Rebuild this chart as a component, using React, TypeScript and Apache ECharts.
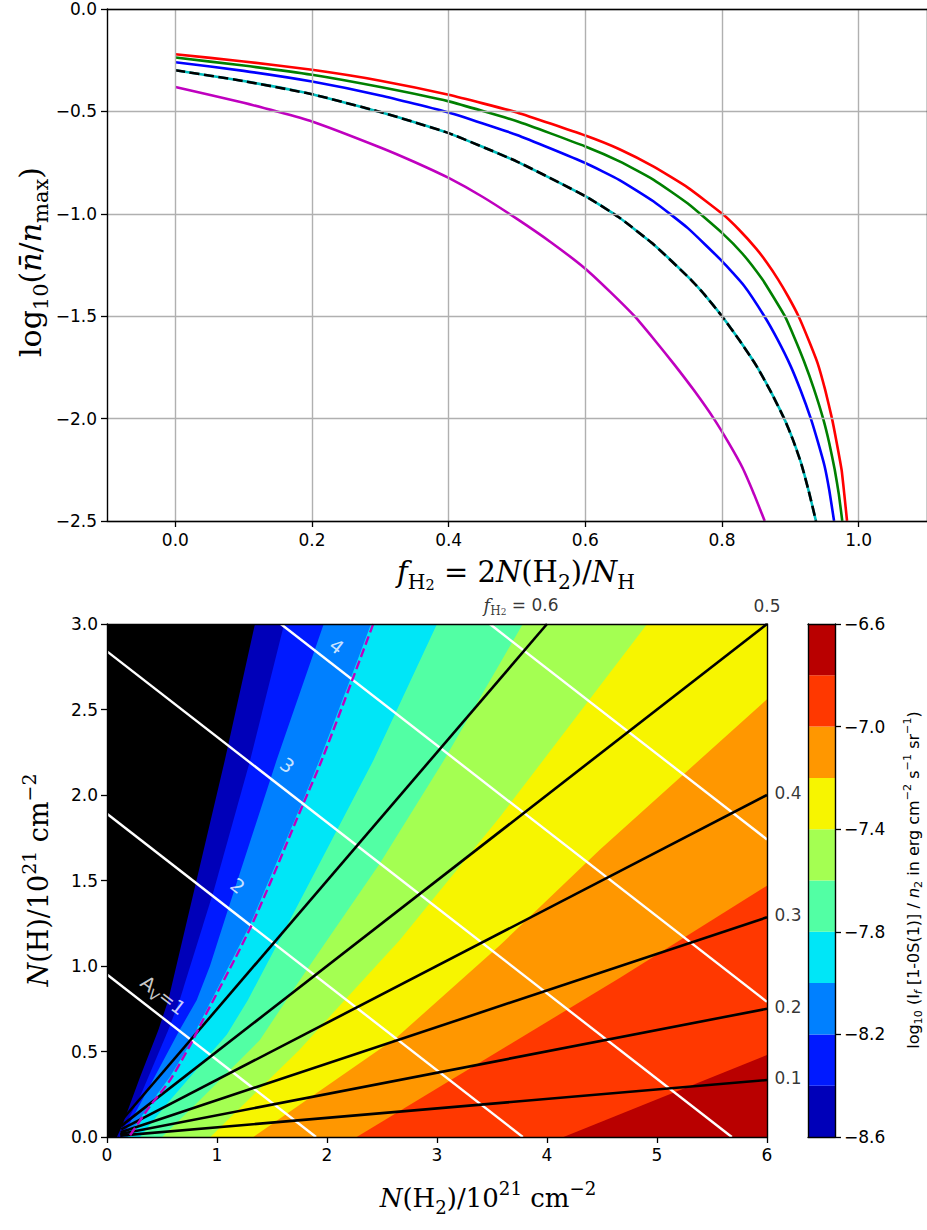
import React, { useEffect, useRef } from "react";
import * as echarts from "echarts";

// ---------------- top panel: log10(nbar/nmax) vs f_H2 ----------------
const TOP_X_TICKS = [0, 0.2, 0.4, 0.6, 0.8, 1.0];
const CURVE_RED = [[0, -0.221], [0.1, -0.256], [0.2, -0.297], [0.3, -0.35], [0.4, -0.419], [0.5, -0.505], [0.6, -0.618], [0.65, -0.685], [0.7, -0.77], [0.75, -0.872], [0.8, -0.999], [0.825, -1.078], [0.85, -1.17], [0.866, -1.24], [0.882, -1.32], [0.897, -1.405], [0.912, -1.5], [0.926, -1.61], [0.94, -1.73], [0.951, -1.86], [0.961, -2.0], [0.968, -2.12], [0.975, -2.25], [0.979, -2.37], [0.983, -2.5]];
const CURVE_GREEN = [[0, -0.237], [0.1, -0.276], [0.2, -0.321], [0.3, -0.381], [0.4, -0.451], [0.5, -0.548], [0.6, -0.671], [0.65, -0.744], [0.7, -0.834], [0.75, -0.95], [0.8, -1.093], [0.83, -1.195], [0.859, -1.32], [0.875, -1.405], [0.892, -1.5], [0.906, -1.605], [0.92, -1.72], [0.934, -1.85], [0.948, -2.0], [0.957, -2.12], [0.965, -2.25], [0.971, -2.37], [0.976, -2.5]];
const CURVE_BLUE = [[0, -0.26], [0.1, -0.302], [0.2, -0.354], [0.3, -0.422], [0.4, -0.505], [0.5, -0.615], [0.6, -0.752], [0.65, -0.835], [0.7, -0.94], [0.75, -1.07], [0.8, -1.231], [0.832, -1.35], [0.862, -1.5], [0.881, -1.612], [0.9, -1.74], [0.915, -1.862], [0.93, -2.0], [0.94, -2.11], [0.95, -2.23], [0.957, -2.35], [0.964, -2.5]];
const CURVE_BLACK = [[0, -0.299], [0.1, -0.352], [0.2, -0.416], [0.3, -0.503], [0.4, -0.606], [0.5, -0.745], [0.6, -0.914], [0.65, -1.019], [0.7, -1.15], [0.754, -1.32], [0.775, -1.397], [0.8, -1.5], [0.825, -1.615], [0.85, -1.74], [0.871, -1.866], [0.891, -2.0], [0.904, -2.105], [0.916, -2.22], [0.927, -2.355], [0.9375, -2.5]];
const CURVE_MAGENTA = [[0, -0.381], [0.1, -0.458], [0.2, -0.549], [0.3, -0.676], [0.35, -0.747], [0.4, -0.825], [0.45, -0.918], [0.5, -1.025], [0.55, -1.14], [0.6, -1.268], [0.636, -1.38], [0.672, -1.5], [0.701, -1.615], [0.73, -1.735], [0.759, -1.862], [0.788, -2.0], [0.81, -2.12], [0.83, -2.24], [0.847, -2.37], [0.8625, -2.5]];

// ---------------- bottom panel: contour map ----------------
// colour levels (colour bar), lowest band first
const LEVELS = [-8.6, -8.4, -8.2, -8.0, -7.8, -7.6, -7.4, -7.2, -7.0, -6.8, -6.6];
const BAND_COLORS = ["#0000b9", "#001aff", "#0080ff", "#00e6f7", "#52ffa4", "#a4ff52", "#f7f500", "#ff9700", "#ff3800", "#b90000"];
const BELOW_COLOR = "#000000";

// band boundaries: [N(H2), N(H)] points
const B_BLACK_DB = [[0.09, 0], [0.134, 0.06], [0.3, 0.35], [0.467, 0.626], [0.557, 0.8], [1.07, 2.2], [1.345, 3.0]];
const B_DB_B = [[0.11, 0], [0.3, 0.236], [0.557, 0.626], [0.66, 0.8], [0.97, 1.44], [1.3, 2.2], [1.61, 3.0]];
const B_B_LB = [[0.14, 0], [0.39, 0.3], [0.66, 0.626], [0.815, 0.8], [0.936, 1.0], [1.1, 1.33], [1.54, 2.2], [1.97, 3.0]];
const B_LB_C = [[0.19, 0], [0.4, 0.2], [0.57, 0.35], [0.75, 0.54], [0.83, 0.65], [1.3, 1.24], [1.77, 1.95], [1.93, 2.2], [2.22, 2.69], [2.4, 3.0]];
const B_C_G = [[0.3, 0], [0.54, 0.19], [1.09, 0.6], [1.28, 0.8], [1.68, 1.29], [2.42, 2.2], [3.0, 3.0]];
const B_G_YG = [[0.5, 0], [0.85, 0.22], [1.39, 0.567], [1.63, 0.8], [1.84, 1.0], [2.48, 1.6], [3.06, 2.2], [3.78, 3.0]];
const B_YG_Y = [[0.94, 0], [1.75, 0.51], [2.16, 0.8], [2.66, 1.15], [3.57, 1.87], [4.91, 3.0]];
const B_Y_O = [[1.33, 0], [2.63, 0.58], [3.57, 1.12], [4.48, 1.68], [6, 2.56]];
const B_O_R = [[2.27, 0], [4.66, 0.93], [6, 1.47]];
const B_R_DR = [[4.15, 0], [6, 0.48]];

// A_V contours (white)
const AV_LINES = [
  [[0, 0.95], [1.9, 0]],
  [[0, 1.89], [3.78, 0]],
  [[0, 2.84], [5.68, 0]],
  [[1.58, 3.0], [6, 0.79]],
  [[3.48, 3.0], [6, 1.74]],
];
const AV_LABEL_TEXT = ["A{avs|V}=1", "2", "3", "4"];
const AV_LABEL_POS = [[0.512, 0.83], [1.19, 1.47], [1.64, 2.175], [2.09, 2.87]];

// f_H2 lines (black)
const F_LABELS = ["0.1", "0.2", "0.3", "0.4", "0.5", "0.6"];
const F_STARTS = [[0.12, 0.008], [0.12, 0.017], [0.125, 0.028], [0.13, 0.045], [0.13, 0.065], [0.13, 0.095]];
const F_ENDS = [[6, 0.333], [6, 0.75], [6, 1.285], [6, 2.0], [6, 3.0], [4.0, 3.0]];

// magenta dashed curve
const MAG_DASH = [[0.21, 0.01], [0.39, 0.18], [0.57, 0.33], [0.75, 0.53], [0.845, 0.65], [1.315, 1.24], [1.785, 1.95], [1.95, 2.2], [2.24, 2.69], [2.42, 3.0]];

const X2_MIN = 0, X2_MAX = 6, Y2_MIN = 0, Y2_MAX = 3;

// painter's order: base (highest band), then each boundary fills the region above-left of it
const FILL_LAYERS = [
  { color: BAND_COLORS[9], pts: null as number[][] | null },
  { color: BAND_COLORS[8], pts: B_R_DR },
  { color: BAND_COLORS[7], pts: B_O_R },
  { color: BAND_COLORS[6], pts: B_Y_O },
  { color: BAND_COLORS[5], pts: B_YG_Y },
  { color: BAND_COLORS[4], pts: B_G_YG },
  { color: BAND_COLORS[3], pts: B_C_G },
  { color: BAND_COLORS[2], pts: B_LB_C },
  { color: BAND_COLORS[1], pts: B_B_LB },
  { color: BAND_COLORS[0], pts: B_DB_B },
  { color: BELOW_COLOR, pts: B_BLACK_DB },
];

const MINUS = "\u2212";
const fmt1 = (v: number) => (v < -1e-9 ? MINUS : "") + Math.abs(v).toFixed(1);

const SANS = "DejaVu Sans";
const SERIF = "DejaVu Serif";
const spine = { show: true, onZero: false, lineStyle: { color: "#000", width: 1.4 } };
const tick = { show: true, length: 6, lineStyle: { color: "#000", width: 1.3 } };
const lbl = { color: "#000", fontFamily: SANS, fontSize: 17, margin: 9 };
const gridLine = { show: true, lineStyle: { color: "#b0b0b0", width: 1.4 } };
const noAxisBits = { axisTick: { show: false }, axisLabel: { show: false }, splitLine: { show: false } };

const mathRich = (size: number, family = SERIF) => ({
  n: { fontFamily: family, fontSize: size, lineHeight: size * 1.4, fill: "#000", color: "#000" },
  i: { fontFamily: family, fontStyle: "italic", fontSize: size, lineHeight: size * 1.4, fill: "#000", color: "#000" },
  s: { fontFamily: family, fontSize: size * 0.7, lineHeight: size * 1.4, verticalAlign: "bottom", fill: "#000", color: "#000" },
  si: { fontFamily: family, fontStyle: "italic", fontSize: size * 0.7, lineHeight: size * 1.4, verticalAlign: "bottom", fill: "#000", color: "#000" },
  ss: { fontFamily: family, fontSize: size * 0.5, lineHeight: size * 1.25, verticalAlign: "bottom", fill: "#000", color: "#000" },
  p: { fontFamily: family, fontSize: size * 0.7, lineHeight: size * 1.4, verticalAlign: "top", fill: "#000", color: "#000" },
});

function buildOption() {
  const topLine = (data: number[][], color: string, extra: any = {}) => ({
    type: "line", xAxisIndex: 0, yAxisIndex: 0, data, showSymbol: false, symbol: "none",
    smooth: 0.15, silent: true, z: 3,
    lineStyle: { color, width: 2.6, ...extra },
  });

  const fillSeries = {
    type: "custom", xAxisIndex: 2, yAxisIndex: 2, silent: true, z: 1,
    data: FILL_LAYERS.map(() => [0, 0]),
    renderItem: (params: any, api: any) => {
      const layer = FILL_LAYERS[params.dataIndex];
      let poly: number[][];
      if (!layer.pts) {
        poly = [[X2_MIN, Y2_MIN], [X2_MAX, Y2_MIN], [X2_MAX, Y2_MAX], [X2_MIN, Y2_MAX]];
      } else {
        poly = layer.pts.slice();
        const last = poly[poly.length - 1];
        if (last[1] < Y2_MAX) poly.push([X2_MAX, Y2_MAX]);
        poly.push([X2_MIN, Y2_MAX], [X2_MIN, Y2_MIN]);
      }
      return {
        type: "polygon",
        shape: { points: poly.map((p) => api.coord(p)) },
        style: { fill: layer.color },
      };
    },
  };

  const avSeries = AV_LINES.map((pts) => ({
    type: "line", xAxisIndex: 2, yAxisIndex: 2, data: pts, showSymbol: false, symbol: "none",
    silent: true, z: 3, lineStyle: { color: "#ffffff", width: 2.4 },
  }));

  const fSeries = F_STARTS.map((s, k) => ({
    type: "line", xAxisIndex: 2, yAxisIndex: 2, data: [s, F_ENDS[k]], showSymbol: false, symbol: "none",
    silent: true, z: 3, lineStyle: { color: "#000000", width: 2.6 },
  }));

  const magSeries = {
    type: "line", xAxisIndex: 2, yAxisIndex: 2, data: MAG_DASH, showSymbol: false, symbol: "none",
    smooth: 0.3, silent: true, z: 4, lineStyle: { color: "#bf00bf", width: 2.4, type: [9, 4] },
  };

  const avLabelSeries = {
    type: "scatter", xAxisIndex: 2, yAxisIndex: 2, silent: true, z: 5, clip: false,
    symbolSize: 1, itemStyle: { color: "rgba(0,0,0,0)" },
    data: AV_LABEL_POS.map((p, k) => ({
      value: p,
      label: {
        show: true, position: "inside", rotate: -37.9, formatter: AV_LABEL_TEXT[k],
        color: "#fff", fontFamily: SANS, fontSize: 19,
        rich: { avs: { color: "#fff", fontFamily: SANS, fontSize: 14, verticalAlign: "bottom", lineHeight: 26 } },
      },
    })),
  };

  const fLabelSeries = {
    type: "scatter", xAxisIndex: 2, yAxisIndex: 2, silent: true, z: 5, clip: false,
    symbolSize: 1, itemStyle: { color: "rgba(0,0,0,0)" },
    data: F_ENDS.map((p, k) => {
      const onTop = p[1] >= Y2_MAX - 1e-9;
      const isFirst = k === F_LABELS.length - 1;
      return {
        value: p,
        label: {
          show: true,
          position: onTop ? "top" : "right",
          distance: 7,
          offset: isFirst ? [-26, 0] : [0, -2],
          formatter: isFirst ? "{fi|f}{fs|H}{fss|2}{fn| = " + F_LABELS[k] + "}" : F_LABELS[k],
          color: "#000", fontFamily: SANS, fontSize: 17,
          rich: {
            fi: { fontFamily: SERIF, fontStyle: "italic", fontSize: 18, color: "#000", lineHeight: 22 },
            fs: { fontFamily: SERIF, fontSize: 12, color: "#000", verticalAlign: "bottom", lineHeight: 23 },
            fss: { fontFamily: SERIF, fontSize: 9, color: "#000", verticalAlign: "bottom", lineHeight: 20 },
            fn: { fontFamily: SANS, fontSize: 17, color: "#000", lineHeight: 22 },
          },
        },
      };
    }),
  };

  const colorbarSeries = {
    type: "custom", xAxisIndex: 4, yAxisIndex: 4, silent: true, z: 1,
    data: BAND_COLORS.map(() => [0, 0]),
    renderItem: (params: any, api: any) => {
      const i = params.dataIndex;
      const p0 = api.coord([0, i]);
      const p1 = api.coord([1, i + 1]);
      return {
        type: "rect",
        shape: { x: p0[0], y: p1[1], width: p1[0] - p0[0], height: p0[1] - p1[1] },
        style: { fill: BAND_COLORS[i] },
      };
    },
  };

  return {
    animation: false,
    backgroundColor: "#ffffff",
    grid: [
      { left: 107, top: 9, width: 825, height: 512 },
      { left: 107, top: 624, width: 660, height: 513 },
      { left: 808, top: 624, width: 27, height: 513 },
    ],
    xAxis: [
      {
        gridIndex: 0, type: "value", min: -0.1, max: 1.1, position: "bottom", z: 5,
        axisLine: spine,
        axisTick: { ...tick, customValues: TOP_X_TICKS },
        axisLabel: { ...lbl, margin: 10, customValues: TOP_X_TICKS, formatter: (v: number) => fmt1(v) },
        splitLine: gridLine,
      },
      { gridIndex: 0, type: "value", min: -0.1, max: 1.1, position: "top", z: 5, axisLine: spine, ...noAxisBits },
      {
        gridIndex: 1, type: "value", min: X2_MIN, max: X2_MAX, interval: 1, position: "bottom", z: 5,
        axisLine: spine, axisTick: tick,
        axisLabel: { ...lbl, formatter: (v: number) => String(Math.round(v)) },
        splitLine: { show: false },
      },
      { gridIndex: 1, type: "value", min: X2_MIN, max: X2_MAX, position: "top", z: 5, axisLine: spine, ...noAxisBits },
      { gridIndex: 2, type: "value", min: 0, max: 1, position: "bottom", z: 5, axisLine: spine, ...noAxisBits },
      { gridIndex: 2, type: "value", min: 0, max: 1, position: "top", z: 5, axisLine: spine, ...noAxisBits },
    ],
    yAxis: [
      {
        gridIndex: 0, type: "value", min: -2.5, max: 0, interval: 0.5, position: "left", z: 5,
        axisLine: spine, axisTick: tick,
        axisLabel: { ...lbl, margin: 10, formatter: (v: number) => fmt1(v) },
        splitLine: gridLine,
      },
      { gridIndex: 0, type: "value", min: -2.5, max: 0, position: "right", z: 5, axisLine: spine, ...noAxisBits },
      {
        gridIndex: 1, type: "value", min: Y2_MIN, max: Y2_MAX, interval: 0.5, position: "left", z: 5,
        axisLine: spine, axisTick: tick,
        axisLabel: { ...lbl, formatter: (v: number) => v.toFixed(1) },
        splitLine: { show: false },
      },
      { gridIndex: 1, type: "value", min: Y2_MIN, max: Y2_MAX, position: "right", z: 5, axisLine: spine, ...noAxisBits },
      {
        gridIndex: 2, type: "value", min: 0, max: BAND_COLORS.length, interval: 2, position: "right", z: 5,
        axisLine: spine, axisTick: tick,
        axisLabel: { ...lbl, formatter: (v: number) => fmt1(LEVELS[Math.round(v)]) },
        splitLine: { show: false },
      },
      { gridIndex: 2, type: "value", min: 0, max: BAND_COLORS.length, position: "left", z: 5, axisLine: spine, ...noAxisBits },
    ],
    series: [
      topLine(CURVE_RED, "#ff0000"),
      topLine(CURVE_GREEN, "#008000"),
      topLine(CURVE_BLUE, "#0000ff"),
      topLine(CURVE_BLACK, "#00bfbf"),
      topLine(CURVE_BLACK, "#000000", { type: [10, 4.5] }),
      topLine(CURVE_MAGENTA, "#bf00bf"),
      fillSeries,
      ...avSeries,
      ...fSeries,
      magSeries,
      avLabelSeries,
      fLabelSeries,
      colorbarSeries,
    ],
    graphic: [
      {
        type: "text", x: 516, y: 572, silent: true,
        style: {
          text: "{i|f}{s|H}{ss|2}{n| = 2}{i|N}{n|(H}{s|2}{n|)/}{i|N}{s|H}",
          align: "center", verticalAlign: "middle", rich: mathRich(29),
        },
      },
      {
        type: "text", x: 30, y: 262, rotation: Math.PI / 2, silent: true,
        style: {
          text: "{n|log}{s|10}{n|(}{i|n\u0304}{n|/}{i|n}{s|max}{n|)}",
          align: "center", verticalAlign: "middle", rich: mathRich(30),
        },
      },
      {
        type: "text", x: 488, y: 1198, silent: true,
        style: {
          text: "{i|N}{n|(H}{s|2}{n|)/10}{p|21}{n| cm}{p|\u22122}",
          align: "center", verticalAlign: "middle", rich: mathRich(26),
        },
      },
      {
        type: "text", x: 38, y: 880, rotation: Math.PI / 2, silent: true,
        style: {
          text: "{i|N}{n|(H)/10}{p|21}{n| cm}{p|\u22122}",
          align: "center", verticalAlign: "middle", rich: mathRich(27),
        },
      },
      {
        type: "text", x: 913, y: 880, rotation: Math.PI / 2, silent: true,
        style: {
          text: "{n|log}{s|10}{n| (I}{si|f}{n| [1-0S(1)] / }{i|n}{s|2}{n| in erg cm}{p|\u22122}{n| s}{p|\u22121}{n| sr}{p|\u22121}{n|)}",
          align: "center", verticalAlign: "middle", rich: mathRich(16, SANS),
        },
      },
    ],
  };
}

export default function App() {
  const ref = useRef<HTMLDivElement>(null);
  useEffect(() => {
    if (!ref.current) return;
    const chart = echarts.init(ref.current, null, { renderer: "svg" });
    chart.setOption(buildOption() as any);
    return () => chart.dispose();
  }, []);
  return (
    <div
      ref={ref}
      style={{ position: "absolute", left: 0, top: 0, width: 927, height: 1230, background: "#fff" }}
    />
  );
}
